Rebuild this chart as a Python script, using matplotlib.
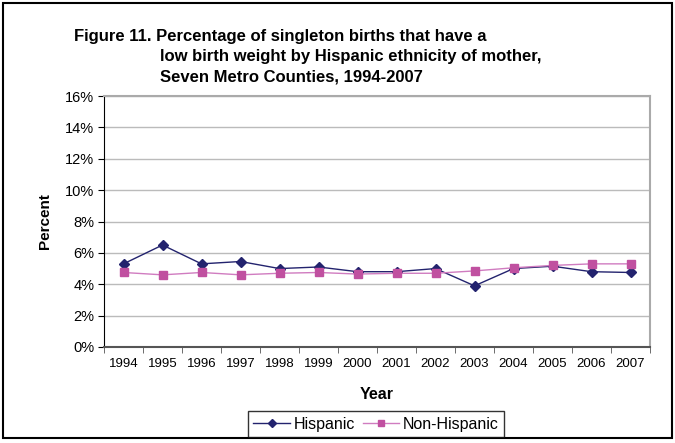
import numpy as np
import matplotlib.pyplot as plt
from matplotlib.patches import Rectangle
from matplotlib.ticker import FuncFormatter

plt.rcParams['font.family'] = ['Liberation Sans', 'DejaVu Sans']

years = ['1994', '1995', '1996', '1997', '1998', '1999', '2000',
         '2001', '2002', '2003', '2004', '2005', '2006', '2007']
hispanic = [5.3, 6.5, 5.3, 5.45, 5.0, 5.1, 4.8, 4.8, 5.0, 3.9, 5.0, 5.15, 4.8, 4.75]
non_hispanic = [4.75, 4.6, 4.75, 4.6, 4.7, 4.75, 4.65, 4.7, 4.7, 4.85, 5.05, 5.2, 5.3, 5.3]
y_ticks = [0, 2, 4, 6, 8, 10, 12, 14, 16]

fig = plt.figure(figsize=(6.75, 4.43), dpi=100)
ax = fig.add_axes([104 / 675, 96 / 443, 546 / 675, 251 / 443])

x = np.arange(len(years))
ax.plot(x, hispanic, '-D', color='#23236E', markersize=5, linewidth=1.0,
        label='Hispanic')
ax.plot(x, non_hispanic, '-s', color='#D07CC0', markerfacecolor='#C050A0',
        markeredgecolor='#C050A0', markersize=5.5, linewidth=1.0,
        label='Non-Hispanic')

ax.set_xlim(-0.5, len(years) - 0.5)
ax.set_ylim(0, 16)
ax.set_yticks(y_ticks)
ax.yaxis.set_major_formatter(FuncFormatter(lambda v, p: f'{v:.0f}%'))
ax.set_xticks(x)
ax.set_xticklabels(years)
ax.set_xticks(np.arange(-0.5, len(years)), minor=True)
ax.tick_params(axis='x', which='major', length=0, pad=8, labelsize=9.5)
ax.tick_params(axis='x', which='minor', length=4, color='#555555')
ax.tick_params(axis='y', length=4, labelsize=10.5, pad=3)

ax.grid(True, axis='y', color='#BBBBBB', linewidth=1.0)
ax.set_axisbelow(True)
ax.spines['left'].set_color('black')
ax.spines['bottom'].set_color('#555555')
ax.spines['bottom'].set_linewidth(1.5)
for s in ['top', 'right']:
    ax.spines[s].set_color('#AAAAAA')
    ax.spines[s].set_linewidth(1.5)

ax.set_xlabel('Year', fontsize=11.5, fontweight='bold', labelpad=12)
ax.set_ylabel('Percent', fontsize=11, fontweight='bold')
ax.yaxis.set_label_coords(-0.096, 0.5)

title_lines = ['Figure 11. Percentage of singleton births that have a',
               'low birth weight by Hispanic ethnicity of mother,',
               'Seven Metro Counties, 1994-2007']
title_x = [74, 160, 160]
title_y = [36, 57, 77.5]
for line, tx, ty in zip(title_lines, title_x, title_y):
    fig.text(tx / 675, 1 - ty / 443, line, fontsize=12, fontweight='bold',
             va='center', ha='left')

leg = fig.legend(loc='center', bbox_to_anchor=(376 / 675, 1 - 424 / 443),
                 ncol=2, fontsize=11.5, frameon=True, fancybox=False,
                 edgecolor='black', handlelength=2.3, columnspacing=0.5,
                 handletextpad=0.2, borderpad=0.35, borderaxespad=0,
                 markerscale=0.8)
leg.get_frame().set_linewidth(1.0)

fig.patches.append(Rectangle((3 / 675, 5 / 443), 669 / 675, 435 / 443,
                             transform=fig.transFigure, fill=False,
                             edgecolor='black', linewidth=1.5))

fig.savefig('out.png', dpi=100)
